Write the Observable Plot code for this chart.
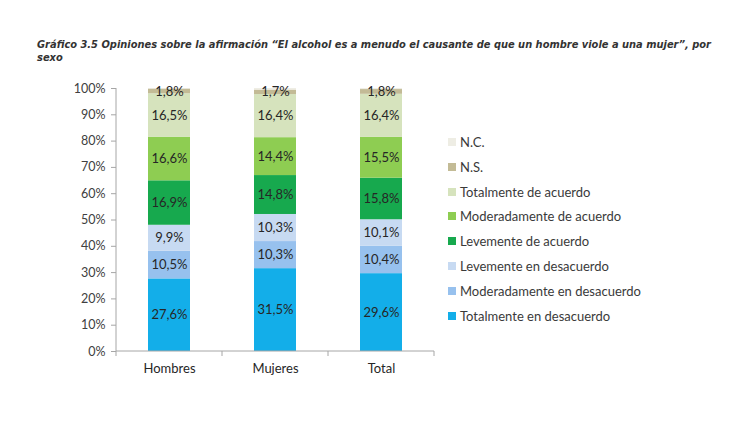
<!DOCTYPE html>
<html>
<head>
<meta charset="utf-8">
<script src="https://cdn.jsdelivr.net/npm/d3@7"></script>
<script src="https://cdn.jsdelivr.net/npm/@observablehq/plot@0.6"></script>
<style>
  body { margin: 0; background: #fff; width: 730px; height: 438px; position: relative; overflow: hidden; font-family: Lato, "Liberation Sans", sans-serif; }
  #title { position: absolute; left: 37px; top: 38px; font-family: "DejaVu Sans", sans-serif; font-weight: bold; font-style: italic; font-size: 9.9px; line-height: 13px; color: #333; white-space: nowrap; }
  #chart { position: absolute; left: 0; top: 0; }
  #legend { position: absolute; left: 448px; top: 134px; font-size: 13px; color: #3a3a3a; }
  .item { height: 24.8px; display: flex; align-items: flex-start; }
  .sw { width: 8px; height: 8px; margin-right: 4px; margin-top: 4px; }
</style>
</head>
<body>
<div id="title">Gráfico 3.5 Opiniones sobre la afirmación “El alcohol es a menudo el causante de que un hombre viole a una mujer”, por<br>sexo</div>
<div id="chart"></div>
<div id="legend"></div>
<script>
const groups = ["Hombres", "Mujeres", "Total"];
const series = ["Totalmente en desacuerdo", "Moderadamente en desacuerdo", "Levemente en desacuerdo", "Levemente de acuerdo", "Moderadamente de acuerdo", "Totalmente de acuerdo", "N.S.", "N.C."];
const colors = ["#13aee9", "#97c1ee", "#c7daf2", "#17a94e", "#8ecd52", "#d6e3bd", "#c3bb96", "#eeede4"];
const hombres = [27.6, 10.5, 9.9, 16.9, 16.6, 16.5, 1.8, 0.2];
const mujeres = [31.5, 10.3, 10.3, 14.8, 14.4, 16.4, 1.7, 0.6];
const total   = [29.6, 10.4, 10.1, 15.8, 15.5, 16.4, 1.8, 0.4];
const yTicks = [0, 10, 20, 30, 40, 50, 60, 70, 80, 90, 100];

const cols = [hombres, mujeres, total];
const data = [];
groups.forEach((g, gi) => series.forEach((s, si) => data.push({group: g, serie: s, value: cols[gi][si]})));
const fmt = v => v.toFixed(1).replace(".", ",") + "%";

const axes = (index, scales, values, dims) => {
  const g = d3.create("svg:g").attr("stroke", "#a6a6a6").attr("fill", "none");
  const x = scales.x, y = scales.y;
  const x0 = dims.marginLeft, x1 = dims.width - dims.marginRight;
  g.append("line").attr("x1", x0).attr("x2", x0).attr("y1", y(0)).attr("y2", y(100));
  g.append("line").attr("x1", x0).attr("x2", x1).attr("y1", y(0)).attr("y2", y(0));
  const step = x.step();
  const bounds = groups.map(d => x(d) + x.bandwidth() / 2 - step / 2).concat([x(groups[groups.length - 1]) + x.bandwidth() / 2 + step / 2]);
  bounds.forEach(b => g.append("line").attr("x1", b).attr("x2", b).attr("y1", y(0)).attr("y2", y(0) + 5));
  return g.node();
};

const chart = Plot.plot({
  width: 730,
  height: 438,
  marginLeft: 116,
  marginRight: 296,
  marginTop: 88,
  marginBottom: 87,
  style: {fontFamily: "Lato, 'Liberation Sans', sans-serif", fontSize: "12.5px", color: "#404040", background: "transparent"},
  x: {domain: groups, paddingInner: 0.6, paddingOuter: 0.3, label: null},
  y: {domain: [0, 100], label: null},
  color: {domain: series, range: colors},
  marks: [
    Plot.barY(data, {x: "group", y: "value", fill: "serie", z: "serie", order: series}),
    Plot.text(data.filter(d => d.serie !== "N.C."), Plot.stackY({x: "group", y: "value", z: "serie", order: series, text: d => fmt(d.value), fill: "#262626", fontSize: 13})),
    Plot.axisY(yTicks, {tickFormat: d => d + "%", tickSize: 5, tickPadding: 6, stroke: "#a6a6a6", fill: "#404040"}),
    Plot.axisX({tickSize: 0, tickPadding: 12, fill: "#262626", fontSize: 13}),
    axes
  ]
});
document.getElementById("chart").appendChild(chart);

const legend = document.getElementById("legend");
series.slice().reverse().forEach(s => {
  const item = document.createElement("div");
  item.className = "item";
  const sw = document.createElement("div");
  sw.className = "sw";
  sw.style.background = colors[series.indexOf(s)];
  const t = document.createElement("span");
  t.textContent = s;
  item.appendChild(sw); item.appendChild(t);
  legend.appendChild(item);
});
</script>
</body>
</html>
